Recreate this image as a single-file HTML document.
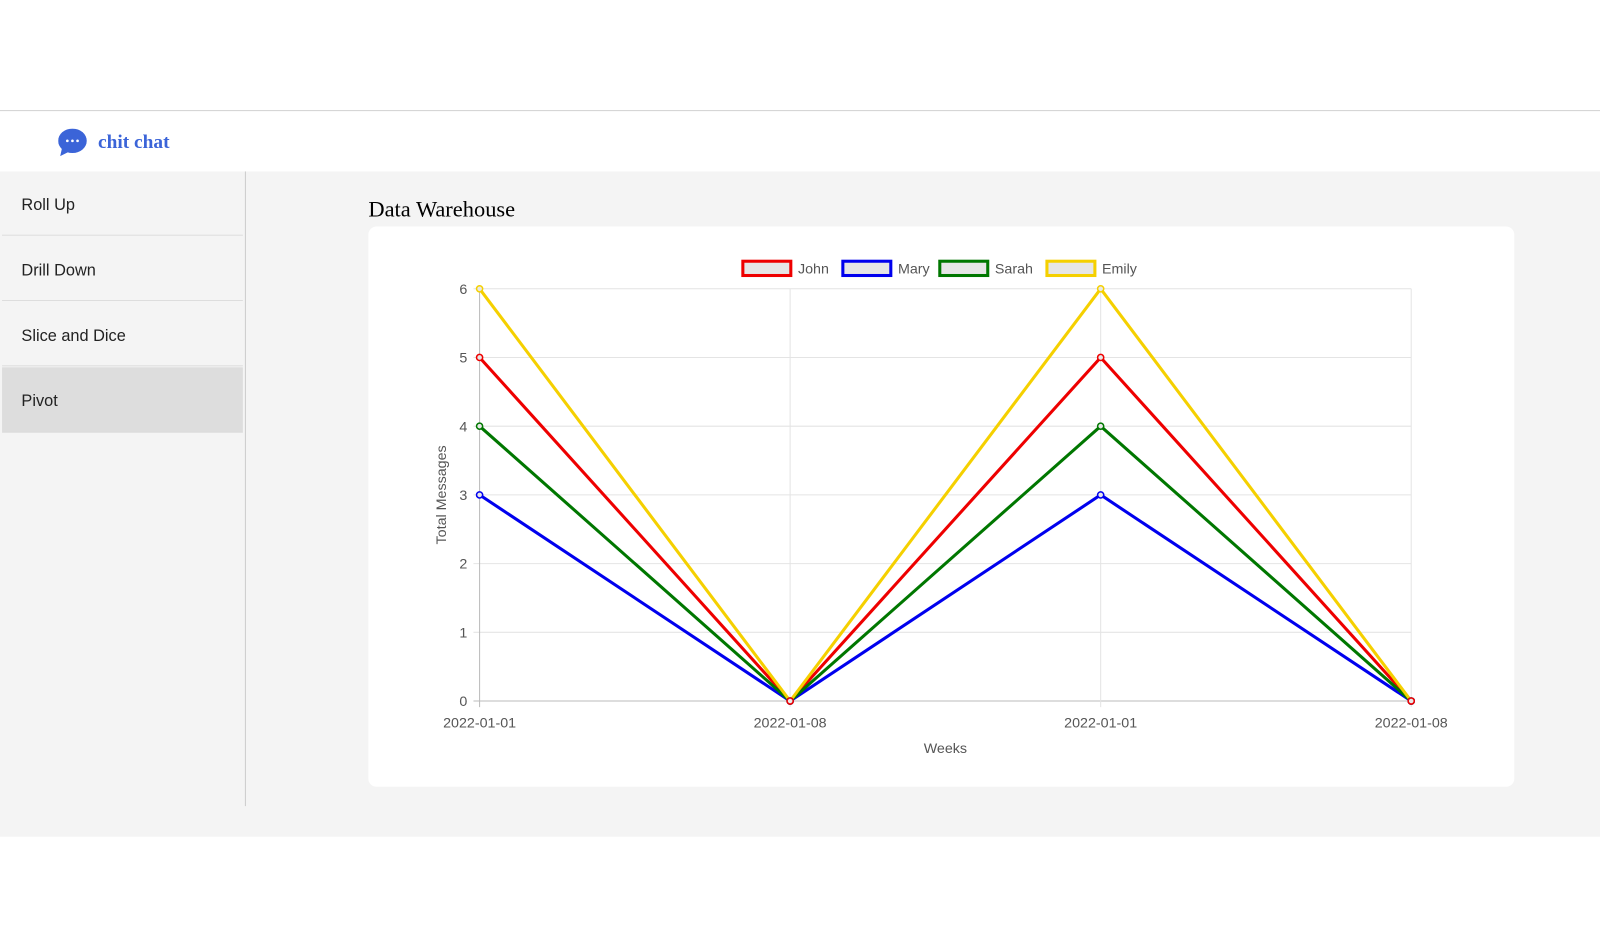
<!DOCTYPE html>
<html><head><meta charset="utf-8"><style>
body{margin:0;width:1600px;height:946px;background:#fff;font-family:"Liberation Sans",sans-serif;position:relative;overflow:hidden}
#root{position:absolute;left:0;top:0;width:1568px;height:927px;transform:scale(1.0204);transform-origin:0 0}
.topline{position:absolute;left:0;top:108px;width:1568px;height:1px;background:#ccc}
.header{position:absolute;left:0;top:109px;width:1568px;height:59px;background:#fff}
.logo{position:absolute;left:96px;top:129px;font-family:"Liberation Serif",serif;font-weight:bold;font-size:19px;color:#3b64d8}
.main{position:absolute;left:0;top:168px;width:1568px;height:652px;background:#f4f4f4}
.side{position:absolute;left:0;top:0;width:240px;height:622px;border-right:1px solid #ccc}
.item{position:absolute;left:2px;width:236px;height:63px;border-bottom:1px solid #ddd;font-size:16px;color:#222;line-height:68px;padding-left:19px;box-sizing:border-box}
.title{position:absolute;left:361px;top:24px;font-family:"Liberation Serif",serif;font-size:22px;color:#000}
.card{position:absolute;left:361px;top:54px;width:1123px;height:549px;background:#fff;border-radius:8px}
</style></head><body>
<div id="root">
<div class="topline"></div>
<div class="header"></div>
<svg style="position:absolute;left:57px;top:126px" width="30" height="28"><ellipse cx="14" cy="12" rx="14" ry="12" fill="#3b64d8"/><path d="M4 18 L2 27 L12 22 Z" fill="#3b64d8"/><circle cx="9" cy="12" r="1.3" fill="#fff"/><circle cx="14" cy="12" r="1.3" fill="#fff"/><circle cx="19" cy="12" r="1.3" fill="#fff"/></svg>
<div class="logo">chit chat</div>
<div class="main">
<div class="side">
<div class="item" style="top:0">Roll Up</div>
<div class="item" style="top:64px">Drill Down</div>
<div class="item" style="top:128px">Slice and Dice</div>
<div class="item" style="top:192px;background:#ddd;height:64px">Pivot</div>
</div>
<div class="title">Data Warehouse</div>
<div class="card"></div>
</div>
<svg id="chart" style="position:absolute;left:0;top:0" width="1568" height="927"></svg>
</div>
<script>
const categories=["2022-01-01","2022-01-08","2022-01-01","2022-01-08"];
const names=["John","Mary","Sarah","Emily"];
const colors=["#ee0000","#0000ee","#007700","#f5d000"];
const john=[5,0,5,0];
const mary=[3,0,3,0];
const sarah=[4,0,4,0];
const emily=[6,0,6,0];
const yTicks=[0,1,2,3,4,5,6];
const series=[john,mary,sarah,emily];
const X0=470,X1=1383,Y0=687,Y1=283,YMAX=6;
const xs=i=>X0+(X1-X0)*i/(categories.length-1);
const ys=v=>Y0-(Y0-Y1)*v/YMAX;
const svg=document.getElementById('chart');
const NS="http://www.w3.org/2000/svg";
function mk(t,a){const e=document.createElementNS(NS,t);for(const k in a)e.setAttribute(k,a[k]);svg.appendChild(e);return e;}
yTicks.forEach(v=>{
 const l=mk('line',{x1:X0-6,x2:X1,y1:ys(v),y2:ys(v),stroke:v===0?'#bbb':'#e4e4e4'});
 
 
 const t=mk('text',{x:X0-12,y:ys(v)+5,'text-anchor':'end','font-size':14,fill:'#555'});t.textContent=v;
 
 
});
categories.forEach((c,i)=>{
 const l=mk('line',{x1:xs(i),x2:xs(i),y1:Y1,y2:Y0+6,stroke:i===0?'#bbb':'#e4e4e4'});
 
 
 const t=mk('text',{x:xs(i),y:Y0+26,'text-anchor':'middle','font-size':14,fill:'#555'});t.textContent=c;
 
 
});
const xt=mk('text',{x:(X0+X1)/2,y:738,'text-anchor':'middle','font-size':14,fill:'#555'});xt.textContent='Weeks';


const yt=mk('text',{x:0,y:0,'text-anchor':'middle','font-size':14,fill:'#555',transform:'translate(437,485) rotate(-90)'});yt.textContent='Total Messages';


series.forEach((s,k)=>{
 const p=mk('polyline',{points:s.map((v,i)=>xs(i)+','+ys(v)).join(' '),fill:'none',stroke:colors[k],'stroke-width':3});
 
 
});
for(let k=series.length-1;k>=0;k--){series[k].forEach((v,i)=>{
 const c=mk('circle',{cx:xs(i),cy:ys(v),r:3,fill:'#e8e8e8',stroke:colors[k],'stroke-width':1.5});
 
 
});}
const lx=[728,826,921,1026];
names.forEach((n,k)=>{
 const r=mk('rect',{x:lx[k],y:256,width:47,height:14,fill:'#e6e6e6',stroke:colors[k],'stroke-width':3});
 
 
 const t=mk('text',{x:lx[k]+54,y:268,'font-size':14,fill:'#555'});t.textContent=n;
 
 
});
</script>
</body></html>
